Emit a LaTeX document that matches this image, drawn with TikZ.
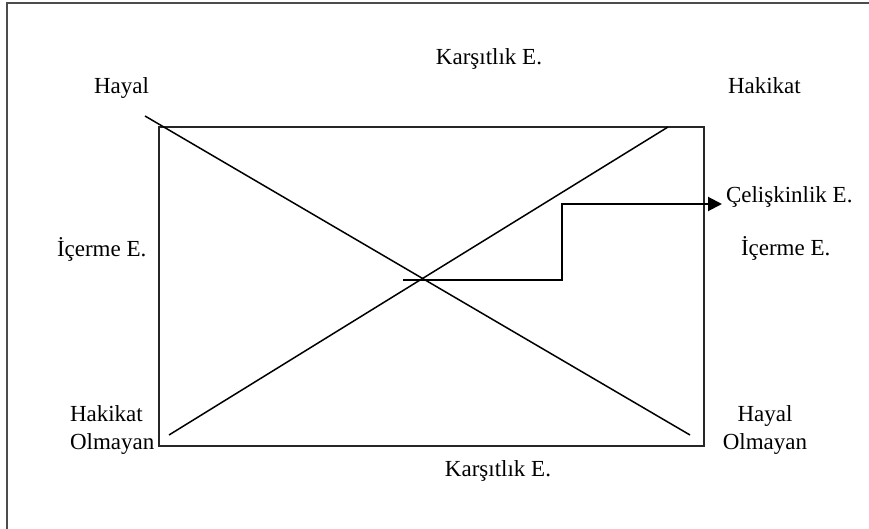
\documentclass[tikz,border=0pt]{standalone}
\usepackage{fontspec}
\setmainfont{Liberation Serif}
\usetikzlibrary{arrows.meta}

\begin{document}
\begin{tikzpicture}[x=0.5pt, y=-0.5pt, line width=1pt,
	lbl/.style={inner sep=0pt, font=\fontsize{11.5}{14}\selectfont},
	diag/.style={line width=0.75pt}]
		\useasboundingbox (0, 0) rectangle (869, 529);
		\draw[black!70] (7, 529) -- (7, 3) -- (869, 3);
	
		\coordinate (tl) at (159, 127);
		\coordinate (br) at (704, 446);
		\draw[black!85] (tl) rectangle (br);
		
		\coordinate (hayalA) at (145, 116);
		\coordinate (hayalB) at (690, 435);
		\coordinate (hakikatA) at (169, 435);
		\coordinate (hakikatB) at (668, 127);
		\draw[diag] (hayalA) -- (hayalB);
		\draw[diag] (hakikatA) -- (hakikatB);
		
		\node[lbl, anchor=base] (kartop) at (489, 65) {Karşıtlık E.};
		\node[lbl, anchor=base] (karbot) at (498, 477) {Karşıtlık E.};
		
		\node[lbl, anchor=base west] (hayal) at (93, 94) {Hayal};
		\node[lbl, anchor=base west] (hakikat) at (727, 94) {Hakikat};
		
		\node[lbl, anchor=base west] (icleft) at (56, 257) {İçerme E.};
		\node[lbl, anchor=base west] (icright) at (740, 256) {İçerme E.};
		\node[lbl, anchor=base west] (celis) at (725, 203) {Çelişkinlik E.};
		
		% base of a two-line node is the last line
		\node[lbl, anchor=base west, align=left] (hakol) at (69, 450) {Hakikat\\Olmayan};
		\node[lbl, anchor=base, align=center] (hayol) at (765, 450) {Hayal\\Olmayan};
		
		\coordinate (stepA) at (403, 280);
		\coordinate (stepB) at (562, 280);
		\coordinate (stepC) at (562, 204);
		\coordinate (tip) at ([shift={(-3, 1)}]celis.base west);
		\draw[-{Triangle[length=7pt, width=7pt]}] (stepA) -- (stepB) -- (stepC) -- (tip);
\end{tikzpicture}
\end{document}
